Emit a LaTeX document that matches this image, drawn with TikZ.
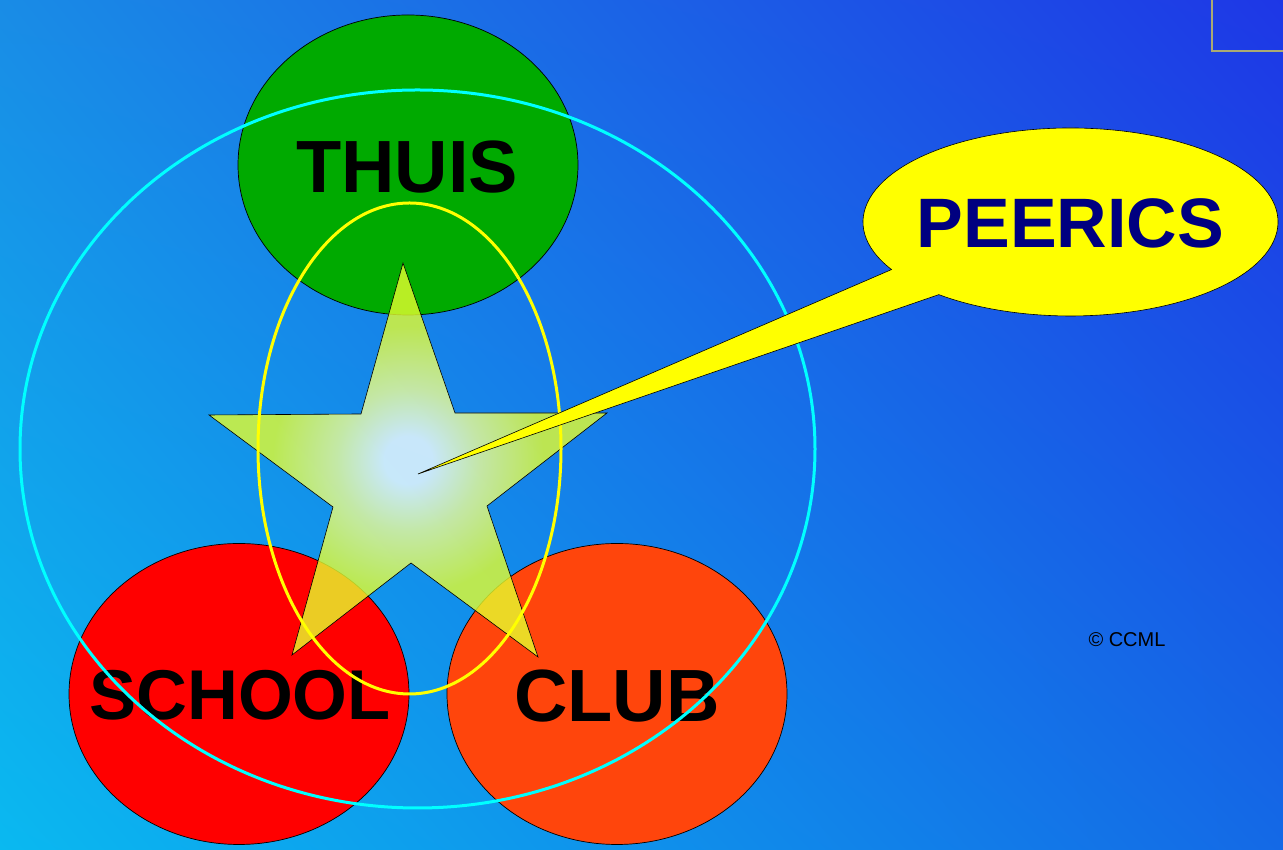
\documentclass[tikz,border=0pt]{standalone}
\usepackage{fontspec}
\setmainfont{Liberation Sans}
\usetikzlibrary{shapes.geometric,shadings}
\definecolor{bgTL}{RGB}{25,140,230}
\definecolor{bgBL}{RGB}{10,185,240}
\definecolor{bgBR}{RGB}{20,105,230}
\definecolor{bgTR}{RGB}{30,55,230}
\definecolor{thuisgreen}{RGB}{0,170,0}
\definecolor{schoolred}{RGB}{255,0,0}
\definecolor{cluborange}{RGB}{255,69,12}
\definecolor{peernavy}{RGB}{0,0,128}
\definecolor{cornerline}{RGB}{170,170,115}
\definecolor{starout}{RGB}{230,255,45}
\definecolor{starmid}{RGB}{240,255,150}
\definecolor{starin}{RGB}{245,255,255}
\definecolor{ringcyan}{RGB}{0,255,255}
\definecolor{ringyellow}{RGB}{255,255,0}
\pgfdeclareradialshading{starshade}{\pgfpoint{0bp}{0bp}}{%
  color(0bp)=(starin); color(3bp)=(starin); color(9bp)=(starmid);
  color(17bp)=(starout); color(50bp)=(starout)}
\tikzset{
  blob/.style={ellipse, draw=black, line width=0.7pt, inner sep=0pt,
    minimum width=340pt, minimum height=301pt},
  blobtext/.style={font=\fontsize{74}{74}\selectfont\bfseries, text=black, inner sep=0pt},
  ring/.style={line width=3pt},
}
\begin{document}
\begin{tikzpicture}[x=1pt,y=1pt]
\useasboundingbox (0,0) rectangle (1283,850);
\shade[upper left=bgTL, upper right=bgTR, lower left=bgBL, lower right=bgBR] (0,0) rectangle (1283,850);
% corner line
\coordinate (k1) at (1212,850);
\coordinate (k2) at (1212,799);
\coordinate (k3) at (1283,799);
\draw[cornerline, line width=1.5pt] (k1) -- (k2) -- (k3);
% three groups
\node[blob, fill=thuisgreen, minimum height=300pt] (thuis) at (408,685) {};
\node[blobtext, anchor=base] (thuistext) at (407,657) {THUIS};
\node[blob, fill=schoolred] (school) at (239,156) {};
\node[blobtext, anchor=base, font=\fontsize{70.5}{70.5}\selectfont\bfseries] (schooltext) at (240,130) {SCHOOL};
\node[blob, fill=cluborange] (club) at (617,156) {};
\node[blobtext, anchor=base] (clubtext) at (617,128) {CLUB};
% star
\path[draw=black, line width=0.6pt, shading=starshade, fill opacity=0.8, draw opacity=1]
  (403,587) -- (455,437) -- (607,437) -- (487,344) -- (538,193) -- (411,287)
  -- (292,195) -- (333,343) -- (209,435) -- (361,436) -- cycle;
\coordinate (tip) at (418,376);
% rings
\draw[ringcyan, ring] (417.5,401) ellipse [x radius=397.5pt, y radius=359pt];
\draw[ringyellow, ring] (409.5,401.5) ellipse [x radius=151.5pt, y radius=245.5pt];
% callout
\coordinate (cc) at (1070.5,628);
\filldraw[fill=ringyellow, draw=black, line width=0.6pt]
  (tip) -- ([shift={(cc)}]210.4:207.5pt and 94pt)
  arc[start angle=210.4, end angle=-129.4, x radius=207.5pt, y radius=94pt] -- cycle;
\node[anchor=base, text=peernavy, font=\fontsize{70}{70}\selectfont\bfseries, inner sep=0pt] (peerics) at (1070.5,602) {PEERICS};
\node[anchor=base, text=black, font=\fontsize{20}{20}\selectfont, inner sep=0pt] (ccml) at (1127,203) {© CCML};
\end{tikzpicture}
\end{document}
